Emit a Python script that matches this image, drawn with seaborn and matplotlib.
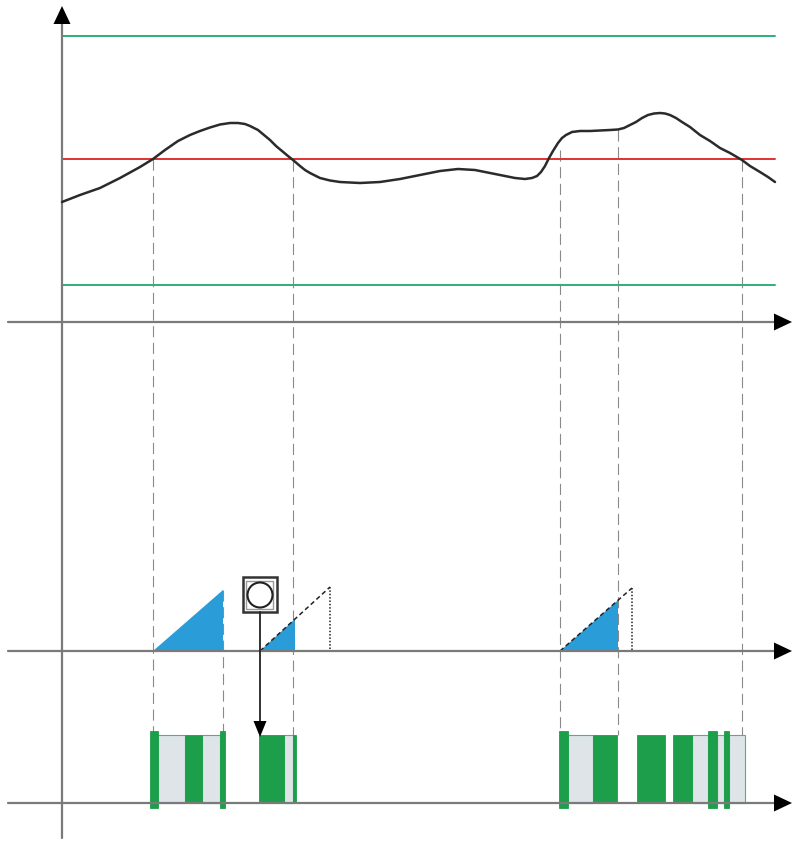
import numpy as np
import pandas as pd
import seaborn as sns
import matplotlib.pyplot as plt
from matplotlib.patches import Polygon, Rectangle, Circle

# schematic drawn in pixel-like units (y grows downward)

# measured signal
curve_x = [62, 80, 100, 120, 140, 153, 165, 178, 190, 200, 210, 220, 230, 238, 245,
           250, 258, 264, 270, 276, 282, 288, 293, 300, 305, 310, 320, 330, 340, 360,
           380, 400, 420, 440, 458, 475, 495, 515, 525, 532, 537, 541, 545, 549, 553,
           558, 562, 566, 572, 580, 590, 610, 618, 624, 630, 636, 642, 648, 654, 660,
           665, 670, 676, 682, 690, 700, 710, 720, 730, 742, 750, 760, 768, 775]
curve_y = [202, 195, 188, 178, 167, 159, 150, 141, 135, 131, 127.5, 124.5, 123, 123, 124,
           126, 130, 135, 140, 146, 151, 156, 160, 166, 170, 173, 178, 180.5, 182, 183,
           182, 179, 175, 171, 169, 170, 174, 178, 179, 178, 176, 172, 166, 158, 151,
           143, 138, 135, 132, 131, 131, 130, 129.5, 128, 125, 122, 118, 115, 113.5, 113,
           113.5, 115, 118, 122, 127, 135, 141, 148, 153, 160, 166, 172, 177, 182]

# horizontal levels
upper_limit = 36
threshold = 159
lower_limit = 285
level_x = [62, 775]

# time axes
axis_rows = [322, 651, 803]
axis_x = [8, 775]
vaxis_x = 62
vaxis_y = [838, 24]

# event guides: (x, top, bottom)
guides = [(153, 159, 735), (223, 590, 735), (293, 160, 735),
          (560, 150, 735), (618, 130, 735), (742, 160, 735)]

# ramps: (start, full end, fill end, top)
ramps = [(153, 223, 223, 590), (260, 330, 295, 587), (560, 632, 618, 588)]

# output bars: (left, right, state, tall)
bars = [
    (150, 158, 1, True), (158, 185, 0, False), (185, 202, 1, False),
    (202, 220, 0, False), (220, 225, 1, True),
    (259, 284, 1, False), (284, 293, 0, False), (293, 296, 1, False),
    (559, 568, 1, True), (568, 593, 0, False), (593, 617, 1, False),
    (637, 665, 1, False), (673, 692, 1, False), (692, 708, 0, False),
    (708, 717, 1, True), (717, 724, 0, False), (724, 729, 1, True),
    (729, 745, 0, False),
]

GREEN = '#1c9e4b'
LIGHT = '#dfe4e8'
BLUE = '#2a9dd8'
AXIS = '#7a7a7a'

sns.set_theme(style='white')
fig = plt.figure(figsize=(8.03, 8.41), dpi=100)
ax = fig.add_axes([0, 0, 1, 1])


def head(ax, tip, direction, length=18, width=17):
    tx, ty = tip
    dx, dy = direction
    bx, by = tx - dx * length, ty - dy * length
    px, py = -dy * width / 2, dx * width / 2
    ax.add_patch(Polygon([(tx, ty), (bx + px, by + py), (bx - px, by - py)],
                         closed=True, color='black', lw=0, zorder=6))


# axes
for y in axis_rows:
    ax.plot(axis_x, [y, y], color=AXIS, lw=1.6, zorder=4)
    head(ax, (792, y), (1, 0))
ax.plot([vaxis_x, vaxis_x], vaxis_y, color=AXIS, lw=1.6, zorder=4)
head(ax, (vaxis_x, 6), (0, -1))

# levels
ax.plot(level_x, [upper_limit] * 2, color='#2fae79', lw=1.4)
ax.plot(level_x, [lower_limit] * 2, color='#2fae79', lw=1.4)
ax.plot(level_x, [threshold] * 2, color='#e0322f', lw=1.4)

# signal
df = pd.DataFrame({'x': curve_x, 'y': curve_y})
sns.lineplot(data=df, x='x', y='y', ax=ax, color='#2b2b2b', lw=1.8, sort=False,
             estimator=None, zorder=5)

# guides
for gx, top, bottom in guides:
    ax.plot([gx, gx], [top, bottom], color='#8a8a8a', lw=0.8,
            ls=(0, (10, 5)), zorder=1)

# ramps
base = axis_rows[1]
for x0, x1, xf, top in ramps:
    yf = base - (base - top) * (xf - x0) / (x1 - x0)
    ax.add_patch(Polygon([(x0, base), (xf, yf), (xf, base)], closed=True,
                         color=BLUE, lw=0, zorder=3))
    if xf < x1:
        ax.plot([x0, x1], [base, top], color='#222222', lw=1.1,
                ls=(0, (3, 2)), zorder=3)
        ax.plot([x1, x1], [top, base], color='#222222', lw=1.1,
                ls=(0, (1, 1.2)), zorder=3)

# pushbutton
ax.add_patch(Rectangle((243, 577), 34, 35, fill=False, ec='#333333', lw=1.8, zorder=5))
ax.add_patch(Rectangle((246.5, 580.5), 27, 28, fill=False, ec='#9a9a9a', lw=1.0, zorder=5))
ax.add_patch(Circle((260, 595), 12.5, fill=True, fc='white', ec='#222222', lw=1.5, zorder=6))
ax.plot([260, 260], [612, 722], color='#222222', lw=1.3, zorder=5)
head(ax, (260, 737), (0, 1), length=16, width=13)

# output bars
for left, right, state, tall in bars:
    top, bottom = (731, 808) if tall else (735, 803)
    if state:
        ax.bar(left, top - bottom, width=right - left, bottom=bottom, align='edge',
               color=GREEN, edgecolor=GREEN, lw=0.6, zorder=3)
    else:
        ax.bar(left, top - bottom, width=right - left, bottom=bottom, align='edge',
               color=LIGHT, edgecolor='#3fbf6c', lw=0.8, zorder=2)

ax.set_xlim(0, 803)
ax.set_ylim(841, 0)
ax.axis('off')
fig.savefig('out.png', dpi=100)
